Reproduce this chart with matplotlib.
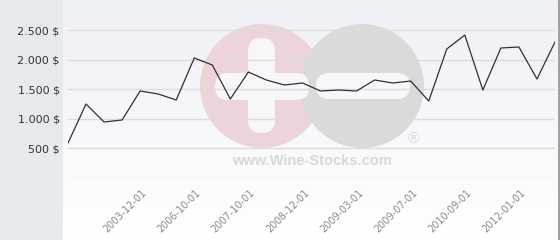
import matplotlib
matplotlib.use("Agg")
import matplotlib.pyplot as plt
import matplotlib.transforms as mtransforms
import numpy as np
from matplotlib.patches import Circle, FancyBboxPatch, Rectangle

# ---- data ----
prices = [590, 1250, 946, 980, 1470, 1419, 1318, 2027, 1909, 1334,
          1790, 1655, 1571, 1605, 1470, 1486, 1470, 1655, 1605, 1638,
          1300, 2179, 2415, 1486, 2196, 2213, 1672, 2297]
date_labels = ["2003-12-01", "2006-10-01", "2007-10-01", "2008-12-01",
               "2009-03-01", "2009-07-01", "2010-09-01", "2012-01-01"]
y_ticks = [500, 1000, 1500, 2000, 2500]
y_tick_labels = ["500 $", "1.000 $", "1.500 $", "2.000 $", "2.500 $"]

W, H = 560, 240
fig = plt.figure(figsize=(W / 100, H / 100), dpi=100)

# ---- background: grey side panel, gradient plot area, watermark ----
bg = fig.add_axes([0, 0, 1, 1])
bg.axis("off")
bg.add_patch(Rectangle((0, 0), 63, H, color="#e6eaed", lw=0))
grad = np.linspace(0, 1, 200)[:, None]
top = np.array([0.933, 0.941, 0.965])
bot = np.array([1.0, 1.0, 1.0])
img = top[None, None, :] * (1 - grad[..., None]) + bot[None, None, :] * grad[..., None]
bg.imshow(img, extent=(63, 558, H, 0), aspect="auto", zorder=0)
bg.add_patch(Rectangle((558, 0), 2, H, color="#a0a0a0", lw=0, zorder=1))
bg.set_xlim(0, W)
bg.set_ylim(H, 0)

pink, grey = "#ecd4da", "#dadada"
bg.add_patch(Circle((262, 86), 62, color=pink, lw=0, zorder=2))
bg.add_patch(Circle((362, 86), 62, color=grey, lw=0, zorder=2))
white = "#f7f7fa"
bg.add_patch(FancyBboxPatch((248, 38), 27, 95, boxstyle="round,pad=0,rounding_size=13",
                            color=white, lw=0, zorder=3))
bg.add_patch(FancyBboxPatch((215, 73), 94, 27, boxstyle="round,pad=0,rounding_size=13",
                            color=white, lw=0, zorder=3))
bg.add_patch(FancyBboxPatch((316, 73), 94, 26, boxstyle="round,pad=0,rounding_size=13",
                            color=white, lw=0, zorder=3))
bg.text(413, 139, "®", fontsize=11, color=grey, ha="center", va="center",
        family="Liberation Sans", zorder=3)
bg.text(312, 161, "www.Wine-Stocks.com", fontsize=10.5, fontweight="bold", color="#d8d8d8",
        ha="center", va="center", family="Liberation Sans", zorder=3)

# ---- data axes ----
ax = fig.add_axes([68 / W, (H - 178) / H, (555 - 68) / W, 178 / H])
ax.patch.set_alpha(0)
x = np.arange(len(prices))
ax.plot(x, prices, color="#3b2a35", lw=0.9, zorder=3)
ax.set_xlim(0, len(prices) - 1)
ax.set_ylim(0, 178 * 2500 / 148)

for v in [0] + y_ticks:
    ax.axhline(v, color="#dcdcdc", lw=1, zorder=1)

ax.set_yticks(y_ticks)
ax.set_yticklabels(y_tick_labels, fontsize=8, color="#333333")
ax.tick_params(axis="y", length=0, pad=6)

ax.set_xticks(range(4, len(prices), 3))
ax.set_xticklabels(date_labels, fontsize=7, color="#8a8a8a", rotation=45,
                   ha="right", va="center", rotation_mode="anchor")
ax.tick_params(axis="x", length=0, pad=9.5)
shift = mtransforms.ScaledTranslation(5 / 100, 0, fig.dpi_scale_trans)
for lab in ax.get_xticklabels():
    lab.set_transform(lab.get_transform() + shift)

for s in ax.spines.values():
    s.set_visible(False)

fig.savefig("out.png", dpi=100)
